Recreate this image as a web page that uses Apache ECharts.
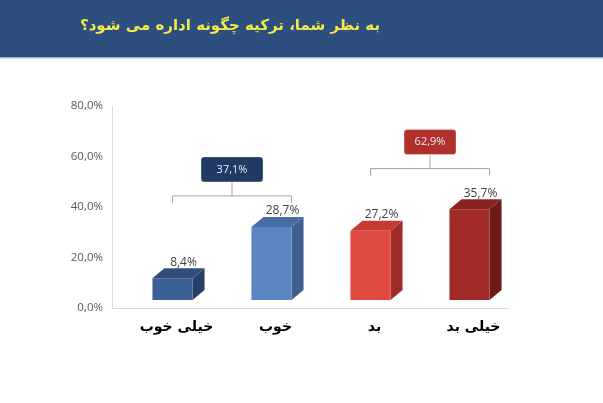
<!DOCTYPE html>
<html>
<head>
<meta charset="utf-8">
<script src="https://cdn.jsdelivr.net/npm/echarts@6/dist/echarts.min.js"></script>
<style>
  html, body { margin: 0; padding: 0; background: #fff; }
  #chart { width: 603px; height: 403px; }
</style>
</head>
<body>
<div id="chart"></div>
<script>
// survey answers, left to right
const categories = ['خیلی خوب', 'خوب', 'بد', 'خیلی بد'];
const shares = [8.4, 28.7, 27.2, 35.7];
// groups: first bar, last bar, total
const groupFrom = [0, 2];
const groupTo = [1, 3];
const groupTotals = [37.1, 62.9];

const titleText = 'به نظر شما، ترکیه چگونه اداره می شود؟';

// styles
const frontCol = ['#3b5f93', '#5b84c2', '#e04a42', '#a22b27'];
const topCol = ['#2f4e7b', '#4a6da3', '#c53a33', '#8a2320'];
const sideCol = ['#253f66', '#3f5f8e', '#9e2c28', '#6a1a17'];
const boxCol = ['#1f3a63', '#b2302c'];
const boxW = [62, 52];
const bracketLevel = [44.4, 55.2]; // where brackets sit, in axis units

const SHIFT = 16;   // 3D floor pushes bars right of the axis
const DX = 12, DY = 10, LIFT = 8.5;

var chart = echarts.init(document.getElementById('chart'));

function fmtPct(v) {
  return v.toFixed(1).replace('.', ',') + '%';
}

function renderBar(params, api) {
  const i = api.value(0);
  const v = api.value(1);
  const top = api.coord([i, v]);
  const base = api.coord([i, 0]);
  const bw = api.size([1, 0])[0];
  const w = bw * 0.405;
  const cx = top[0] + SHIFT;
  const x0 = cx - w / 2 - 5;
  const x1 = x0 + w;
  const ft = top[1] - LIFT;
  const fb = base[1] - 8;
  return {
    type: 'group',
    children: [
      {
        type: 'polygon',
        shape: { points: [[x1, ft], [x1 + DX, ft - DY], [x1 + DX, fb - DY], [x1, fb]] },
        style: { fill: sideCol[i] }
      },
      {
        type: 'polygon',
        shape: { points: [[x0, ft], [x1, ft], [x1 + DX, ft - DY], [x0 + DX, ft - DY]] },
        style: { fill: topCol[i] }
      },
      {
        type: 'rect',
        shape: { x: x0, y: ft, width: w, height: fb - ft },
        style: { fill: frontCol[i] }
      },
      {
        type: 'text',
        style: {
          text: fmtPct(v),
          x: (x0 + x1) / 2 + DX / 2 + 5,
          y: ft - DY - 6,
          align: 'center', verticalAlign: 'middle',
          textAlign: 'center', textVerticalAlign: 'middle',
          fill: '#404040',
          font: '12px "Open Sans", sans-serif'
        }
      }
    ]
  };
}

function renderGroup(params, api) {
  const k = params.dataIndex;
  const a = api.value(0), b = api.value(1), total = api.value(2);
  const bw = api.size([1, 0])[0];
  const w = bw * 0.405;
  const pa = api.coord([a, bracketLevel[k]]);
  const pb = api.coord([b, bracketLevel[k]]);
  const xl = pa[0] + SHIFT - 5;
  const xr = pb[0] + SHIFT - 5 + w / 2;
  const y = pa[1];
  const mid = (xl + xr) / 2;
  const bh = 25;
  const by = y - 14 - bh;
  const line = { stroke: '#a6a6a6', lineWidth: 1, fill: null };
  return {
    type: 'group',
    children: [
      { type: 'polyline', shape: { points: [[xl, y + 7], [xl, y], [xr, y], [xr, y + 7]] }, style: line },
      { type: 'line', shape: { x1: mid, y1: y, x2: mid, y2: by + bh }, style: line },
      {
        type: 'rect',
        shape: { x: mid - boxW[k] / 2, y: by, width: boxW[k], height: bh, r: 3 },
        style: { fill: boxCol[k], stroke: 'rgba(255,255,255,0.35)', lineWidth: 1 }
      },
      {
        type: 'text',
        style: {
          text: fmtPct(total),
          x: mid, y: by + bh / 2,
          align: 'center', verticalAlign: 'middle',
          textAlign: 'center', textVerticalAlign: 'middle',
          fill: '#e8edf4',
          font: '11px "Open Sans", sans-serif'
        }
      }
    ]
  };
}

var option = {
  backgroundColor: '#ffffff',
  animation: false,
  graphic: [
    { type: 'rect', shape: { x: 0, y: 0, width: 603, height: 57 }, style: { fill: '#2d4f80' } },
    { type: 'rect', shape: { x: 0, y: 57, width: 603, height: 1.5 }, style: { fill: '#9fb3cf' } },
    {
      type: 'text', x: 230, y: 26,
      style: {
        text: titleText,
        align: 'center', verticalAlign: 'middle',
        textAlign: 'center', textVerticalAlign: 'middle',
        fill: '#f5e84a',
        font: 'bold 15px "DejaVu Sans", sans-serif'
      }
    }
  ],
  grid: { left: 112, right: 95, top: 106, bottom: 95 },
  xAxis: {
    type: 'category',
    data: categories,
    axisLine: { lineStyle: { color: '#d9d9d9', width: 1 } },
    axisTick: { show: false },
    axisLabel: {
      margin: 12,
      color: '#000',
      fontWeight: 'bold',
      fontSize: 14,
      fontFamily: '"DejaVu Sans", sans-serif',
      padding: [0, 0, 0, 30]
    }
  },
  yAxis: {
    type: 'value',
    min: 0, max: 80, interval: 20,
    axisLine: { show: true, lineStyle: { color: '#d9d9d9', width: 1 } },
    axisTick: { show: false },
    splitLine: { show: false },
    axisLabel: {
      margin: 9,
      color: '#595959',
      fontSize: 11.5,
      fontFamily: '"Open Sans", sans-serif',
      formatter: fmtPct
    }
  },
  series: [
    {
      type: 'custom',
      renderItem: renderBar,
      encode: { x: 0, y: 1 },
      data: shares.map((v, i) => [i, v]),
      z: 3
    },
    {
      type: 'custom',
      renderItem: renderGroup,
      encode: { x: [0, 1], y: 2 },
      data: groupTotals.map((t, k) => [groupFrom[k], groupTo[k], t]),
      z: 4
    }
  ]
};

chart.setOption(option);
</script>
</body>
</html>
